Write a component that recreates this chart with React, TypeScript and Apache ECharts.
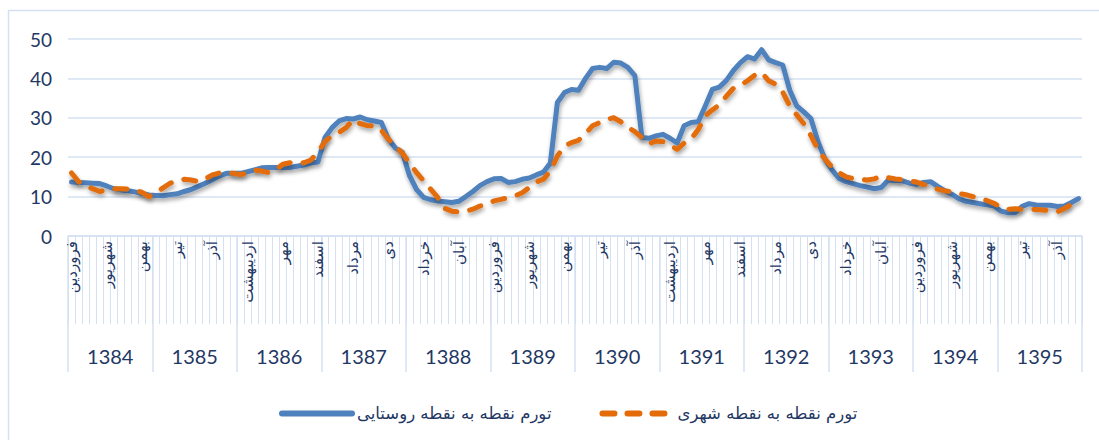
import React, { useEffect, useRef } from "react";
import * as echarts from "echarts";

const monthNames = ["فروردین", "اردیبهشت", "خرداد", "تیر", "مرداد", "شهریور", "مهر", "آبان", "آذر", "دی", "بهمن", "اسفند"];
const years = ["1384", "1385", "1386", "1387", "1388", "1389", "1390", "1391", "1392", "1393", "1394", "1395"];
const yTicks = [0, 10, 20, 30, 40, 50];

const ruralName = "تورم نقطه به نقطه روستایی";
const urbanName = "تورم نقطه به نقطه شهری";

const rural = [
  13.7, 13.6, 13.5, 13.4, 13.3, 12.7, 12.0, 11.7, 11.5, 11.2, 10.8, 10.4,
  10.3, 10.2, 10.5, 10.7, 11.3, 11.8, 12.6, 13.4, 14.3, 15.2, 15.9, 15.9,
  15.9, 16.3, 16.8, 17.3, 17.4, 17.4, 17.4, 17.4, 17.7, 18.0, 18.5, 18.8,
  25.0, 27.5, 29.2, 29.8, 29.7, 30.2, 29.5, 29.2, 28.8, 24.6, 22.3, 21.2,
  15.3, 11.8, 9.8, 9.2, 8.9, 8.7, 8.5, 8.8, 10.0, 11.3, 12.8, 13.8,
  14.5, 14.6, 13.6, 13.8, 14.4, 14.7, 15.5, 16.2, 18.5, 33.9, 36.4, 37.2,
  37.0, 40.0, 42.5, 42.8, 42.5, 44.1, 43.9, 42.8, 40.7, 25.0, 24.8, 25.4,
  25.8, 24.8, 23.6, 28.0, 28.8, 29.0, 33.0, 37.2, 37.8, 39.5, 42.0, 44.0,
  45.5, 44.9, 47.3, 44.7, 44.0, 43.4, 37.0, 33.0, 31.5, 29.8, 24.0, 19.5,
  16.8, 14.6, 13.8, 13.3, 12.8, 12.4, 12.0, 12.3, 14.2, 14.1, 14.0, 13.4,
  13.1, 13.6, 13.8, 12.6, 11.5, 10.6, 9.5, 8.8, 8.5, 8.2, 7.9, 7.6,
  6.3, 5.9, 5.9, 7.5, 8.2, 7.9, 7.8, 7.8, 7.5, 7.6, 8.5, 9.5,
];

const urban = [
  16.0, 13.8, 12.8, 12.0, 11.3, 11.6, 12.0, 12.0, 11.9, 11.6, 11.1, 10.0,
  11.0, 12.2, 13.4, 14.0, 14.4, 14.2, 13.8, 14.5, 15.5, 16.0, 16.1, 15.9,
  15.6, 16.0, 16.7, 16.5, 16.1, 16.8, 18.2, 18.6, 18.4, 18.6, 19.3, 21.3,
  24.0, 25.5, 26.3, 27.5, 29.5, 28.5, 28.0, 28.0, 26.8, 24.6, 22.8, 21.0,
  18.5, 16.1, 14.0, 11.9, 9.8, 7.0, 6.3, 6.1, 6.3, 6.8, 7.6, 8.2,
  8.9, 9.3, 9.7, 10.2, 11.0, 12.3, 13.7, 14.4, 16.5, 20.3, 22.8, 23.7,
  24.3, 26.0, 28.0, 28.8, 29.6, 30.0, 29.0, 27.6, 26.5, 25.0, 23.4, 24.1,
  23.9, 23.0, 22.0, 23.6, 24.7, 27.0, 30.5, 32.0, 33.3, 35.5, 37.5, 38.3,
  39.4, 40.8, 41.5, 39.4, 38.5, 36.5, 33.0, 30.7, 28.5, 25.5, 22.0, 19.5,
  17.5, 16.1, 15.0, 14.6, 14.4, 14.2, 14.5, 15.2, 14.8, 14.5, 14.3, 14.0,
  13.7, 13.1, 12.5, 11.9, 11.5, 11.2, 10.8, 10.5, 10.0, 9.6, 9.0, 8.3,
  7.3, 6.8, 6.9, 6.8, 6.8, 6.7, 6.6, 6.4, 6.1, 7.0, 8.0, 9.3,
];

const categories: string[] = [];
years.forEach((y) => monthNames.forEach((m) => categories.push(m + " " + y)));

const TEXT = "#1F3864";
const LIGHT = "#D5E1F2";
const BLUE = "#4F81BD";
const ORANGE = "#E36C09";
const FA = "'DejaVu Sans', sans-serif";

export default function App() {
  const ref = useRef<HTMLDivElement>(null);
  useEffect(() => {
    if (!ref.current) return;
    const chart = echarts.init(ref.current, undefined, { renderer: "svg" });
    chart.setOption({
      animation: false,
      backgroundColor: "#ffffff",
      grid: { left: 68, right: 17, top: 39, bottom: 204 },
      graphic: [
        { type: "line", shape: { x1: 8, y1: 10.5, x2: 1099, y2: 10.5 }, style: { stroke: LIGHT, lineWidth: 1.5 } },
        { type: "line", shape: { x1: 8.5, y1: 10, x2: 8.5, y2: 440 }, style: { stroke: LIGHT, lineWidth: 1.5 } },
      ],
      legend: {
        left: 274,
        top: 400,
        itemWidth: 70,
        itemHeight: 14,
        itemGap: 48,
        itemStyle: { opacity: 0 },
        lineStyle: { width: 6, cap: "round" },
        textStyle: { color: TEXT, fontSize: 16.5, fontFamily: FA },
        data: [ruralName, urbanName],
      },
      xAxis: [
        {
          type: "category",
          data: categories,
          boundaryGap: true,
          axisLine: { show: true, lineStyle: { color: LIGHT, width: 1.5 } },
          axisTick: { show: true, interval: 0, length: 88, lineStyle: { color: LIGHT, width: 1 } },
          axisLabel: {
            interval: 4,
            rotate: 90,
            margin: 5,
            color: TEXT,
            fontSize: 15,
            fontFamily: FA,
            formatter: (v: string) => v.split(" ")[0],
          },
          splitLine: { show: false },
        },
        {
          type: "category",
          data: years,
          position: "bottom",
          boundaryGap: true,
          axisLine: { show: false },
          axisTick: { show: true, interval: 0, length: 136, lineStyle: { color: LIGHT, width: 1.5 } },
          axisLabel: { margin: 110, color: TEXT, fontSize: 20, fontFamily: "Lato, sans-serif" },
          splitLine: { show: false },
        },
      ],
      yAxis: {
        type: "value",
        min: yTicks[0],
        max: yTicks[yTicks.length - 1],
        interval: 10,
        axisLine: { show: false },
        axisTick: { show: false },
        axisLabel: { color: TEXT, fontSize: 19, fontFamily: "Lato, sans-serif", margin: 16 },
        splitLine: { lineStyle: { color: LIGHT, width: 1.5 } },
      },
      series: [
        {
          name: ruralName,
          type: "line",
          xAxisIndex: 0,
          data: rural,
          symbol: "none",
          lineStyle: {
            color: BLUE,
            width: 5,
            cap: "round",
            join: "round",
            shadowColor: "rgba(0,0,0,0.35)",
            shadowBlur: 4,
            shadowOffsetX: 1,
            shadowOffsetY: 3,
          },
          itemStyle: { color: BLUE },
        },
        {
          name: urbanName,
          type: "line",
          xAxisIndex: 0,
          data: urban,
          symbol: "none",
          lineStyle: {
            color: ORANGE,
            width: 5,
            type: [12, 13],
            cap: "round",
            join: "round",
            shadowColor: "rgba(0,0,0,0.35)",
            shadowBlur: 4,
            shadowOffsetX: 1,
            shadowOffsetY: 3,
          },
          itemStyle: { color: ORANGE },
        },
      ],
    });
    return () => chart.dispose();
  }, []);
  return <div ref={ref} style={{ position: "fixed", left: 0, top: 0, width: 1099, height: 440 }} />;
}
